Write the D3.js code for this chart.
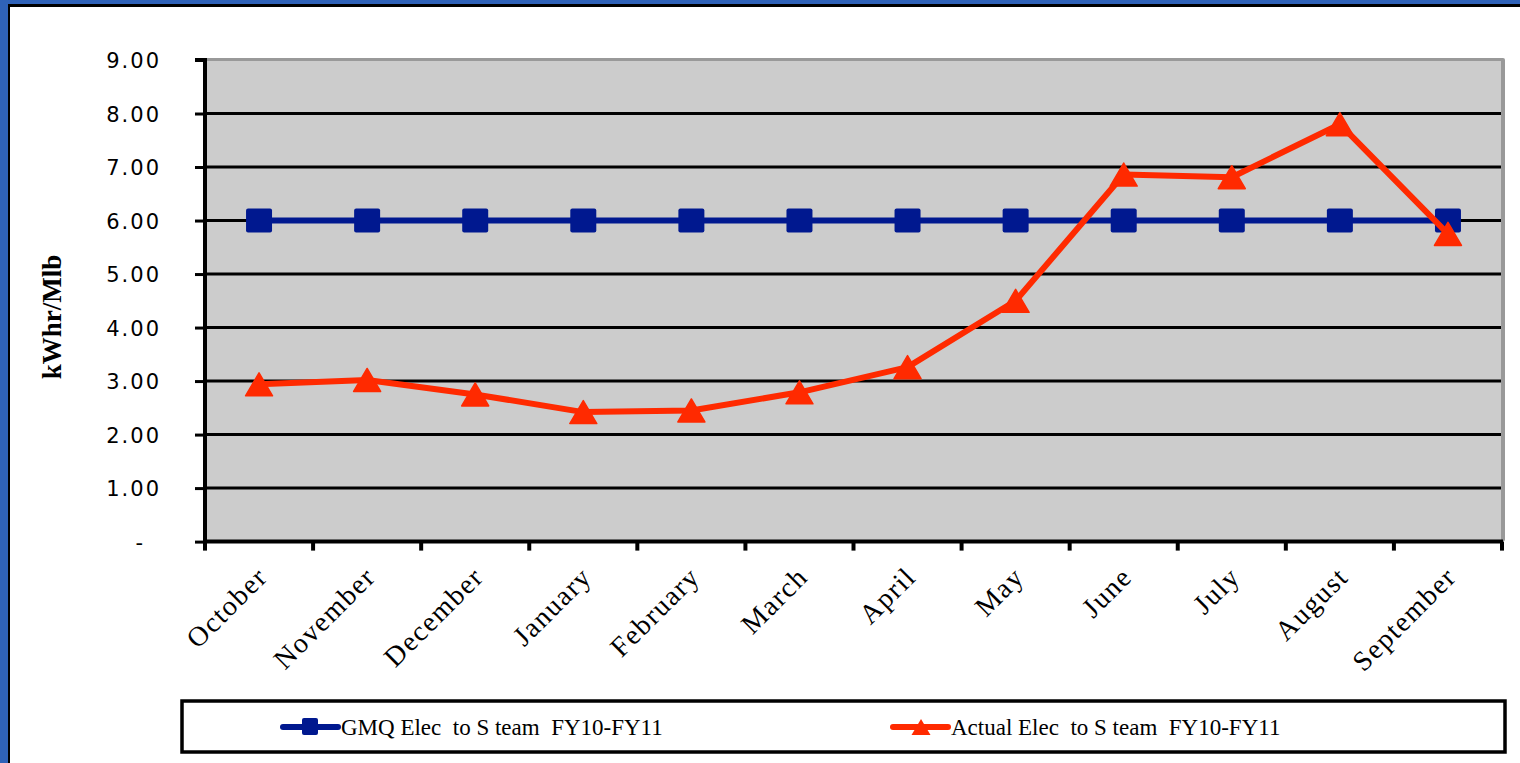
<!DOCTYPE html>
<html>
<head>
<meta charset="utf-8">
<script src="https://cdn.jsdelivr.net/npm/d3@7"></script>
<style>
  body { margin: 0; background: #fff; }
  svg { display: block; }
</style>
</head>
<body>
<svg id="chart"></svg>
<script>
// data
var months = ["October", "November", "December", "January", "February", "March",
              "April", "May", "June", "July", "August", "September"];
var gmqValues = [6.00, 6.00, 6.00, 6.00, 6.00, 6.00, 6.00, 6.00, 6.00, 6.00, 6.00, 6.00];
var actualValues = [2.94, 3.02, 2.75, 2.42, 2.45, 2.79, 3.26, 4.50, 6.86, 6.81, 7.80, 5.75];
var yTicks = [0, 1, 2, 3, 4, 5, 6, 7, 8, 9];
var seriesNames = ["GMQ Elec  to S team  FY10-FY11", "Actual Elec  to S team  FY10-FY11"];

var W = 1520, H = 763;
var blue = "#00188f", red = "#ff2a00";

var svg = d3.select("#chart").attr("width", W).attr("height", H);

// slide frame
svg.append("rect").attr("width", W).attr("height", H).attr("fill", "#2f62b8");
svg.append("rect").attr("x", 8).attr("y", 4).attr("width", W).attr("height", H).attr("fill", "#000");
svg.append("rect").attr("x", 10).attr("y", 7).attr("width", W).attr("height", H).attr("fill", "#fff");

var plot = {left: 205, top: 60, right: 1502, bottom: 541.6};

var x = d3.scaleBand().domain(months).range([plot.left, plot.right]);
var y = d3.scaleLinear().domain([0, 9]).range([plot.bottom, plot.top]);

// plot area with shadow edge on top and right
svg.append("rect")
  .attr("x", plot.left).attr("y", plot.top - 2)
  .attr("width", plot.right - plot.left + 3).attr("height", plot.bottom - plot.top + 2)
  .attr("rx", 2)
  .attr("fill", "#999");
svg.append("rect")
  .attr("x", plot.left).attr("y", plot.top + 1)
  .attr("width", plot.right - plot.left - 1).attr("height", plot.bottom - plot.top - 1)
  .attr("fill", "#cccccc");

// gridlines
svg.append("g")
  .selectAll("line")
  .data(yTicks.filter(function(d) { return d > 0 && d < 9; }))
  .enter().append("line")
    .attr("x1", plot.left).attr("x2", plot.right - 1)
    .attr("y1", function(d) { return y(d); })
    .attr("y2", function(d) { return y(d); })
    .attr("stroke", "#000").attr("stroke-width", 3);

// y axis
var yAxis = svg.append("g")
  .attr("transform", "translate(" + plot.left + ",0)")
  .call(d3.axisLeft(y).tickValues(yTicks).tickSize(10).tickPadding(34)
    .tickFormat(function(d) { return d === 0 ? "-" : d3.format(".2f")(d); }));
yAxis.select(".domain").attr("stroke", "#000").attr("stroke-width", 4).attr("d", "M-10," + plot.top + "H0V" + (plot.bottom + 4));
yAxis.selectAll(".tick line").attr("stroke", "#000").attr("stroke-width", 3);
yAxis.selectAll(".tick text")
  .attr("fill", "#000")
  .attr("font-family", "DejaVu Sans")
  .attr("font-size", 21)
  .attr("letter-spacing", 2)
  .attr("dy", "0.36em")
  .attr("dx", function(d) { return d === 0 ? -16 : 0; });

// x axis
var xAxis = svg.append("g")
  .attr("transform", "translate(0," + plot.bottom + ")")
  .call(d3.axisBottom(x).tickSize(0).tickFormat(""));
xAxis.select(".domain").attr("stroke", "#000").attr("stroke-width", 4).attr("d", "M" + plot.left + ",0H" + (plot.right + 1));

var bounds = months.map(function(m) { return x(m); }).concat([plot.right]);
xAxis.selectAll(".btick")
  .data(bounds)
  .enter().append("line")
    .attr("x1", function(d) { return d; }).attr("x2", function(d) { return d; })
    .attr("y1", 0).attr("y2", 9)
    .attr("stroke", "#000").attr("stroke-width", 4);

svg.append("g")
  .selectAll("text")
  .data(months)
  .enter().append("text")
    .attr("transform", function(d) {
      return "translate(" + (x(d) + x.bandwidth() / 2 + 10) + "," + (plot.bottom + 37) + ") rotate(-45)";
    })
    .attr("text-anchor", "end")
    .attr("font-family", "Liberation Serif")
    .attr("font-size", 28)
    .attr("letter-spacing", 1.5)
    .attr("fill", "#000")
    .text(function(d) { return d; });

// y axis title
svg.append("text")
  .attr("transform", "translate(61,317) rotate(-90)")
  .attr("text-anchor", "middle")
  .attr("font-family", "Liberation Serif")
  .attr("font-weight", "bold")
  .attr("font-size", 27)
  .attr("fill", "#000")
  .text("kWhr/Mlb");

// lines
var line = d3.line()
  .x(function(d, i) { return x(months[i]) + x.bandwidth() / 2; })
  .y(function(d) { return y(d); });

svg.append("path")
  .datum(gmqValues)
  .attr("d", line)
  .attr("fill", "none").attr("stroke", blue).attr("stroke-width", 6);

svg.append("g")
  .selectAll("rect")
  .data(gmqValues)
  .enter().append("rect")
    .attr("x", function(d, i) { return x(months[i]) + x.bandwidth() / 2 - 13; })
    .attr("y", function(d) { return y(d) - 12; })
    .attr("width", 26).attr("height", 24).attr("rx", 2)
    .attr("fill", blue);

svg.append("path")
  .datum(actualValues)
  .attr("d", line)
  .attr("fill", "none").attr("stroke", red).attr("stroke-width", 6)
  .attr("stroke-linejoin", "round");

var tri = function(cx, cy, w, h) {
  return "M" + cx + "," + (cy - h / 2) + "L" + (cx + w / 2) + "," + (cy + h / 2) + "L" + (cx - w / 2) + "," + (cy + h / 2) + "Z";
};

svg.append("g")
  .selectAll("path")
  .data(actualValues)
  .enter().append("path")
    .attr("d", function(d, i) { return tri(x(months[i]) + x.bandwidth() / 2, y(d), 27, 23); })
    .attr("fill", red)
    .attr("stroke", red).attr("stroke-width", 1.5).attr("stroke-linejoin", "round");

// legend
var legend = svg.append("g");
legend.append("rect")
  .attr("x", 182).attr("y", 701)
  .attr("width", 1323).attr("height", 51)
  .attr("fill", "#fff").attr("stroke", "#000").attr("stroke-width", 3.5);

var legendX = [283, 893];
var item = legend.selectAll(".item")
  .data(seriesNames)
  .enter().append("g")
    .attr("transform", function(d, i) { return "translate(" + legendX[i] + ",727)"; });

item.append("line")
  .attr("x1", 0).attr("x2", 55).attr("y1", 0).attr("y2", 0)
  .attr("stroke", function(d, i) { return i === 0 ? blue : red; })
  .attr("stroke-width", 6).attr("stroke-linecap", "round");

item.filter(function(d, i) { return i === 0; }).append("rect")
  .attr("x", 19).attr("y", -9).attr("width", 16).attr("height", 17).attr("rx", 2)
  .attr("fill", blue);

item.filter(function(d, i) { return i === 1; }).append("path")
  .attr("d", tri(28, 0, 19, 16))
  .attr("fill", red);

item.append("text")
  .attr("x", 58).attr("y", 8)
  .attr("font-family", "Liberation Serif")
  .attr("font-size", 23)
  .attr("fill", "#000")
  .style("white-space", "pre")
  .text(function(d) { return d; });
</script>
</body>
</html>
